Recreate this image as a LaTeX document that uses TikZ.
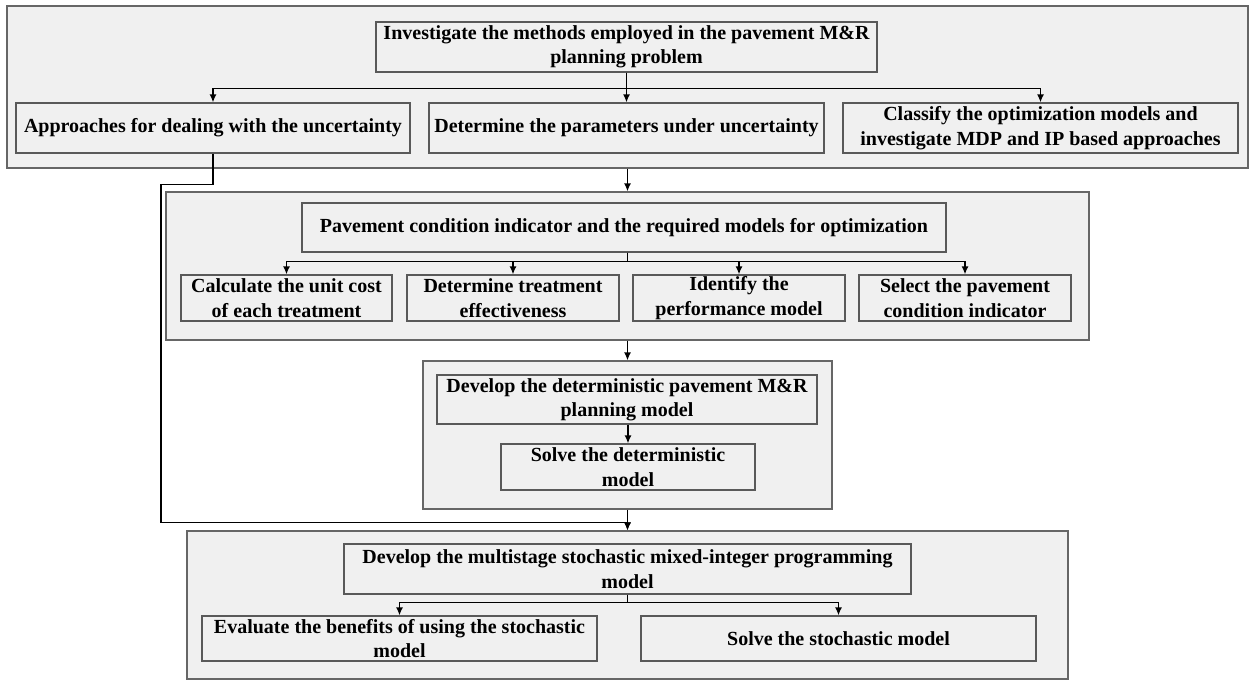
\documentclass[tikz,border=0pt]{standalone}
\usepackage{fontspec}
\setmainfont{Liberation Serif}
\usepackage{tikz}
\usetikzlibrary{positioning,arrows.meta,shadows}

\begin{document}
\begin{tikzpicture}[x=0.5pt, y=-0.5pt,
            panel/.style = {draw=black!60, fill=black!6, line width=0.6pt, inner sep=0pt,
                            drop shadow={shadow xshift=0.6pt, shadow yshift=-0.6pt, fill=black!30, opacity=0.5}},
            main/.style = {draw=black!65, fill=black!6, line width=0.6pt, inner sep=0pt, align=center,
                           font=\bfseries\fontsize{10}{12.2}\selectfont,
                           drop shadow={shadow xshift=0.6pt, shadow yshift=-0.6pt, fill=black!30, opacity=0.5}},
            arr/.style = {-{Latex[length=4pt,width=3.5pt]}, line width=0.75pt}]
            \useasboundingbox (0,0) rectangle (1253,680);
            % Panels
            \node[panel, minimum width=620.5pt, minimum height=81pt] (p1) at (627.5,87) {};
            \node[panel, minimum width=461.5pt, minimum height=74pt] (p2) at (627.5,266) {};
            \node[panel, minimum width=204.5pt, minimum height=74pt] (p3) at (627.5,435) {};
            \node[panel, minimum width=440.5pt, minimum height=74pt] (p4) at (627.5,605) {};
            % Nodes
            \node[main, minimum width=250.5pt, minimum height=25pt] (inv) at (626.5,47) {Investigate the methods employed in the pavement M\&R\\planning problem};
            \node[main, minimum width=197pt, minimum height=25pt] (appr) at (213,128) {Approaches for dealing with the uncertainty};
            \node[main, minimum width=197.5pt, minimum height=25pt] (param) at (626.5,128) {Determine the parameters under uncertainty};
            \node[main, minimum width=197.5pt, minimum height=25pt] (cls) at (1040.5,128) {Classify the optimization models and\\investigate MDP and IP based approaches};
            \node[main, minimum width=322pt, minimum height=24.5pt] (pcond) at (624,227.5) {Pavement condition indicator and the required models for optimization};
            \node[main, minimum width=105.5pt, minimum height=23pt] (cost) at (286.5,298) {Calculate the unit cost\\of each treatment};
            \node[main, minimum width=106pt, minimum height=23pt] (eff) at (513,298) {Determine treatment\\effectiveness};
            \node[main, minimum width=106pt, minimum height=23pt] (perf) at (739,298) {Identify the\\performance model};
            \node[main, minimum width=106pt, minimum height=23pt] (ind) at (965,298) {Select the pavement\\condition indicator};
            \node[main, minimum width=190pt, minimum height=24.5pt] (det) at (627,399.5) {Develop the deterministic pavement M\&R\\planning model};
            \node[main, minimum width=127pt, minimum height=23pt] (soldet) at (628,467) {Solve the deterministic\\model};
            \node[main, minimum width=283.5pt, minimum height=25pt] (multi) at (627.5,569) {Develop the multistage stochastic mixed-integer programming\\model};
            \node[main, minimum width=197.5pt, minimum height=22.5pt] (eval) at (399.5,638.5) {Evaluate the benefits of using the stochastic\\model};
            \node[main, minimum width=197.5pt, minimum height=22.5pt] (solst) at (838.5,638.5) {Solve the stochastic model};
            \coordinate (j) at ([yshift=4pt]p4.north);
            % Edges
            \draw[arr] (inv.south) -- (param.north);
            \draw[arr] (inv.south) -- ++(0,16) -| (appr.north);
            \draw[arr] (inv.south) -- ++(0,16) -| (cls.north);
            \draw[arr] (p1.south) -- (p2.north);
            \foreach \n in {cost,eff,perf,ind}
                \draw[arr] (pcond.south -| p2.north) -- ++(0,9) -| (\n.north);
            \draw[arr] (p2.south) -- (p3.north);
            \draw[arr] (det.south -| soldet.north) -- (soldet.north);
            \draw[arr] (appr.south) -- ++(0,31) -- ++(-52,0) |- (j) -- (p4.north);
            \draw[arr] (p3.south) -- (p4.north);
            \foreach \n in {eval,solst}
                \draw[arr] (multi.south) -- ++(0,8) -| (\n.north);
\end{tikzpicture}
\end{document}
